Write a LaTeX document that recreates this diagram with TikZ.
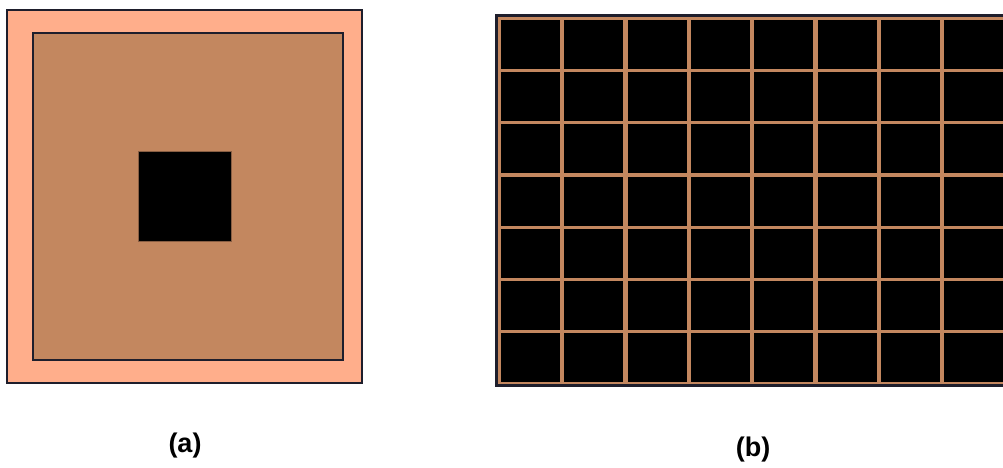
\documentclass[tikz,border=0pt]{standalone}
\usepackage{fontspec}
\setmainfont{Liberation Sans}
\usetikzlibrary{positioning}
\definecolor{salmon}{HTML}{FFAE8B}
\definecolor{copper}{HTML}{C3875F}
\definecolor{edge}{HTML}{1E1E2C}
\tikzstyle{frame} = [draw=edge, line width=1.6pt]
\tikzstyle{cell} = [fill=black]
\tikzstyle{caption} = [font=\bfseries\fontsize{27}{30}\selectfont, inner sep=0pt]

\begin{document}
\begin{tikzpicture}[x=1pt, y=-1pt]
	\useasboundingbox (0,0) rectangle (1003,467);
	\clip (0,0) rectangle (1003,467);

	% (a)
	\draw [frame, fill=salmon] (7,10) rectangle (362,383);
	\draw [frame, line width=2pt, fill=copper] (33,33) rectangle (343,360);
	\draw [draw=copper!70!black, line width=0.5pt, fill=black] (138,151) rectangle (231,241);
	\node [caption] (labelA) at (185,446) {(a)};

	% (b)
	\draw [draw=edge, line width=3pt, fill=copper] (496.5,15.5) rectangle (1012,385.5);
	\foreach \i in {0,...,7}
		\foreach \j in {0,...,6}
			\fill [cell] ({501+63.3*\i},{20+52.2*\j}) rectangle ++(59,49);
	\node [caption] (labelB) at (753,450) {(b)};
\end{tikzpicture}
\end{document}
